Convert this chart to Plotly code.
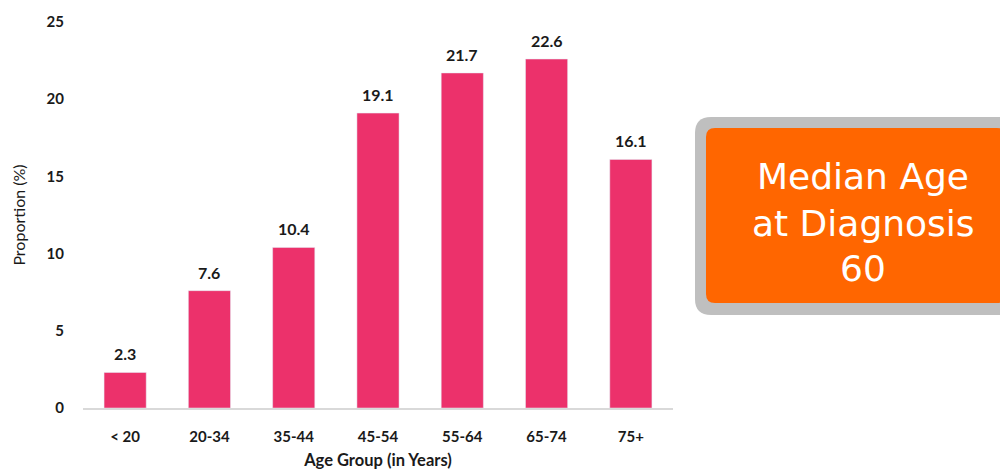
import plotly.graph_objects as go

categories = ["< 20", "20-34", "35-44", "45-54", "55-64", "65-74", "75+"]
values = [2.3, 7.6, 10.4, 19.1, 21.7, 22.6, 16.1]
y_ticks = [0, 5, 10, 15, 20, 25]
box_lines = ["Median Age", "at Diagnosis", "60"]

OFF = 8  # page body margin
W, H = 1008 - OFF, 470 - OFF
# plot area in screen pixels
X0, X1, Y0, Y1 = 83, 673, 22, 408
L, R, T, B = X0 - OFF, (W + OFF) - X1, Y0 - OFF, (H + OFF) - Y1
PW, PH = X1 - X0, Y1 - Y0

def px2paper(px, py):
    return (px - X0) / PW, (Y1 - py) / PH

def rrect(x0, y0, x1, y1, r):
    def P(x, y):
        a, b = px2paper(x, y)
        return f"{a:.5f},{b:.5f}"
    d = f"M {P(x0 + r, y0)} L {P(x1 - r, y0)} Q {P(x1, y0)} {P(x1, y0 + r)} "
    d += f"L {P(x1, y1 - r)} Q {P(x1, y1)} {P(x1 - r, y1)} "
    d += f"L {P(x0 + r, y1)} Q {P(x0, y1)} {P(x0, y1 - r)} "
    d += f"L {P(x0, y0 + r)} Q {P(x0, y0)} {P(x0 + r, y0)} Z"
    return d

fig = go.Figure()
fig.add_trace(go.Bar(x=categories, y=values, marker_color="#EC316B", width=0.5,
                     hoverinfo="x+y"))

for c, v in zip(categories, values):
    fig.add_annotation(x=c, y=v, text=f"<b>{v}</b>", showarrow=False,
                       yanchor="bottom", yshift=7,
                       font=dict(family="Lato", size=16, color="#1a1a1a"))

fig.add_shape(type="path", xref="paper", yref="paper",
              path=rrect(695, 117, 1016, 315, 16),
              fillcolor="#BFBFBF", line=dict(width=0), layer="above")
fig.add_shape(type="path", xref="paper", yref="paper",
              path=rrect(706, 128, 1006, 303, 9),
              fillcolor="#FF6600", line=dict(width=0), layer="above")

for i, (txt, yy) in enumerate(zip(box_lines, [176, 223, 268])):
    xp, yp = px2paper(863, yy)
    fig.add_annotation(x=xp, y=yp, xref="paper", yref="paper", text=txt,
                       showarrow=False, xanchor="center", yanchor="middle",
                       font=dict(family="DejaVu Sans", size=36, color="white"))

fig.update_layout(
    width=W, height=H,
    margin=dict(l=L, r=R, t=T, b=B, autoexpand=False),
    plot_bgcolor="white", paper_bgcolor="white",
    showlegend=False,
    xaxis=dict(range=[-0.5, 6.5], showline=True, linecolor="#D9D9D9", linewidth=1.5,
               showgrid=False, ticks="", ticklabelstandoff=14, automargin=False,
               tickfont=dict(family="Lato", size=15, color="#1a1a1a", weight="bold"),
               title=dict(text="<b>Age Group (in Years)</b>", standoff=12,
                          font=dict(family="Lato", size=16.5, color="#1a1a1a"))),
    yaxis=dict(range=[0, 25], tickvals=y_ticks, showgrid=False, zeroline=False,
               showline=False, ticks="", ticklabelstandoff=18, automargin=False,
               tickfont=dict(family="Lato", size=15, color="#1a1a1a", weight="bold"),
               title=dict(text="Proportion (%)", standoff=16,
                          font=dict(family="Lato", size=16, color="#1a1a1a"))),
)

fig.write_html("out.html")
